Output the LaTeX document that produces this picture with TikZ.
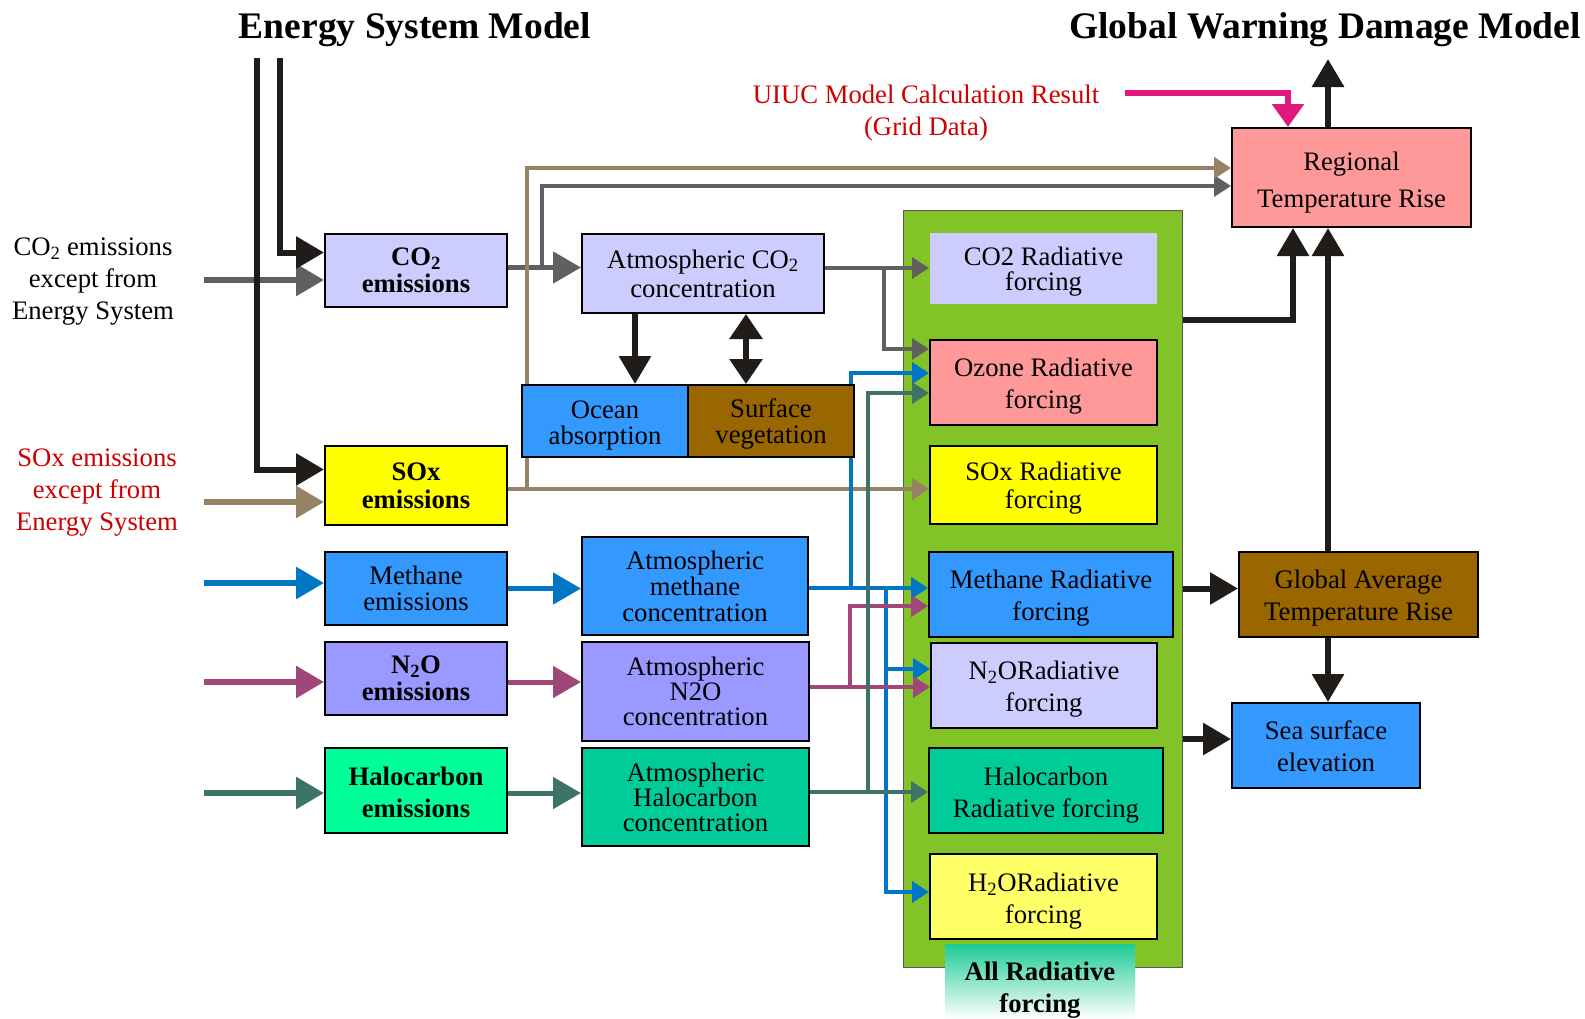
\documentclass[tikz,border=0pt]{standalone}
\usepackage{fontspec}
\setmainfont{Liberation Serif}
\usetikzlibrary{arrows.meta,backgrounds}
\definecolor{lav}{HTML}{CCCCFF}
\definecolor{skyblue}{HTML}{3399FF}
\definecolor{brownish}{HTML}{996600}
\definecolor{soxyel}{HTML}{FFFF00}
\definecolor{paleyel}{HTML}{FFFF66}
\definecolor{rose}{HTML}{FF9999}
\definecolor{n2ofill}{HTML}{9999FF}
\definecolor{halofill}{HTML}{00FF99}
\definecolor{haloatmfill}{HTML}{00CC99}
\definecolor{panelgreen}{HTML}{82C428}
\definecolor{allrftop}{HTML}{1ECC96}
\definecolor{wiregray}{HTML}{606060}
\definecolor{wiretan}{HTML}{968264}
\definecolor{wireblue}{HTML}{0077C4}
\definecolor{wirepurple}{HTML}{9E4778}
\definecolor{wireteal}{HTML}{3E7468}
\definecolor{wireblack}{HTML}{201C1A}
\definecolor{wiremag}{HTML}{E0197D}
\definecolor{labelred}{HTML}{CC0000}
\pgfdeclarelayer{wires}
\pgfsetlayers{background,wires,main}
\newcommand{\dropstrut}[1]{\rule{0pt}{#1}}

\begin{document}
\begin{tikzpicture}[
    x=1pt, y=-1pt,
    box/.style={rectangle, draw=black, line width=2pt, align=center,
                inner sep=0pt, font=\fontsize{26.7}{#1}\selectfont},
    box/.default=32,
    bbox/.style={box, font=\fontsize{26.7}{#1}\selectfont\bfseries},
    bbox/.default=26,
    lbl/.style={align=center, inner sep=0pt, font=\fontsize{26.7}{32}\selectfont},
    title/.style={inner sep=0pt, font=\fontsize{37.5}{40}\selectfont\bfseries},
    feed/.style={line width=6pt, -{Triangle[length=28pt,width=31pt]}},
    wire/.style={line width=4pt, -{Triangle[length=17pt,width=21pt]}}
]
\useasboundingbox (0,0) rectangle (1585,1018);

\node[title] (esm) at (415,30) {Energy System Model};
\node[title] (gwdm) at (1325,30) {Global Warning Damage Model};

\begin{pgfonlayer}{background}
\node[draw=gray!70!black, line width=1pt, fill=panelgreen, inner sep=0pt,
      minimum width=279pt, minimum height=757pt] (panel) at (1042.5,588.5) {};
\end{pgfonlayer}

% sources
\node[lbl] (co2src) at (93,282) {CO\textsubscript{2} emissions\\except from\\Energy System};
\node[lbl, text=labelred] (soxsrc) at (97,493) {SOx emissions\\except from\\Energy System};
\node[lbl, text=labelred] (uiuc) at (926,113) {UIUC Model Calculation Result\\(Grid Data)};

% emissions
\node[bbox=26.5, fill=lav, minimum width=182pt, minimum height=73pt] (co2em) at (416,270.5) {CO\textsubscript{2}\\emissions};
\node[bbox=28, fill=soxyel, minimum width=182pt, minimum height=79pt] (soxem) at (416,485.5) {SOx\\emissions};
\node[box=26, fill=skyblue, minimum width=182pt, minimum height=73pt] (methem) at (416,588.5) {Methane\\emissions};
\node[bbox=26.5, fill=n2ofill, minimum width=182pt, minimum height=73pt] (n2oem) at (416,678.5) {N\textsubscript{2}O\\emissions};
\node[bbox=32, fill=halofill, minimum width=182pt, minimum height=85pt] (haloem) at (416,790.5) {\dropstrut{22pt}Halocarbon\\emissions};

% concentrations
\node[box=29, fill=lav, minimum width=242pt, minimum height=79pt] (atmco2) at (703,273.5) {Atmospheric CO\textsubscript{2}\\concentration};
\node[box=26, fill=skyblue, minimum width=166pt, minimum height=72pt] (ocean) at (605,421) {\dropstrut{26pt}Ocean\\absorption};
\node[box=26, fill=brownish, minimum width=166pt, minimum height=72pt] (veg) at (771,421) {\dropstrut{25pt}Surface\\vegetation};
\node[box=26, fill=skyblue, minimum width=226pt, minimum height=98pt] (methatm) at (695,586) {Atmospheric\\methane\\concentration};
\node[box=25, fill=n2ofill, minimum width=227pt, minimum height=99pt] (n2oatm) at (695.5,691.5) {Atmospheric\\N2O\\concentration};
\node[box=25, fill=haloatmfill, minimum width=227pt, minimum height=98pt] (haloatm) at (695.5,797) {Atmospheric\\Halocarbon\\concentration};

% radiative forcing
\node[box=25, draw=none, fill=lav, minimum width=227pt, minimum height=71pt] (co2rf) at (1043.5,268.5) {\dropstrut{25pt}CO2 Radiative\\forcing};
\node[box, fill=rose, minimum width=227pt, minimum height=85pt] (ozrf) at (1043.5,382.5) {\dropstrut{26pt}Ozone Radiative\\forcing};
\node[box=28, fill=soxyel, minimum width=227pt, minimum height=78pt] (soxrf) at (1043.5,485) {\dropstrut{25pt}SOx Radiative\\forcing};
\node[box, fill=skyblue, minimum width=244pt, minimum height=85pt] (methrf) at (1051,594.5) {\dropstrut{26pt}Methane Radiative\\forcing};
\node[box, fill=lav, minimum width=226pt, minimum height=85pt] (n2orf) at (1044,685.5) {\dropstrut{26pt}N\textsubscript{2}ORadiative\\forcing};
\node[box, fill=haloatmfill, minimum width=234pt, minimum height=85pt] (halorf) at (1046,790.5) {\dropstrut{28pt}Halocarbon\\Radiative forcing};
\node[box, fill=paleyel, minimum width=227pt, minimum height=85pt] (h2orf) at (1043.5,896.5) {\dropstrut{28pt}H\textsubscript{2}ORadiative\\forcing};
\node[bbox=32, draw=none, top color=allrftop, bottom color=white, minimum width=190pt, minimum height=73pt] (allrf) at (1040,981.5) {\dropstrut{36pt}All Radiative\\forcing};

% damage
\node[box=37, fill=rose, minimum width=239pt, minimum height=99pt] (regional) at (1351.5,177.5) {\dropstrut{28pt}Regional\\Temperature Rise};
\node[box, fill=brownish, minimum width=239pt, minimum height=85pt] (gat) at (1358.5,594.5) {\dropstrut{26pt}Global Average\\Temperature Rise};
\node[box, fill=skyblue, minimum width=188pt, minimum height=85pt] (sea) at (1326,745.5) {\dropstrut{20pt}Sea surface\\elevation};

% free ends and branch points
\coordinate (esl) at (257,58);
\coordinate (esr) at (280,58);
\coordinate (co2in) at (204,280);
\coordinate (soxin) at (204,502);
\coordinate (methin) at (204,583);
\coordinate (n2oin) at (204,682);
\coordinate (haloin) at (204,793);
\coordinate (gsplit) at (542,268);
\coordinate (tsplit) at (527,489);
\coordinate (osplit) at (884,268);
\coordinate (bup) at (851,588);
\coordinate (bdown) at (886,588);
\coordinate (pup) at (850,687);
\coordinate (tup) at (868,792);
\coordinate (uiucsrc) at (1125,93);
\coordinate (gwout) at (1328,59);

\begin{pgfonlayer}{wires}
\draw[feed, wiregray] (co2in) -- (co2in -| co2em.west);
\draw[feed, wiretan] (soxin) -- (soxin -| soxem.west);
\draw[feed, wireblue] (methin) -- (methin -| methem.west);
\draw[feed, wirepurple] (n2oin) -- (n2oin -| n2oem.west);
\draw[feed, wireteal] (haloin) -- (haloin -| haloem.west);
\draw[feed, wireblack] (esr) |- ([yshift=18pt]co2em.west);
\draw[feed, wireblack] (esl) |- ([yshift=16pt]soxem.west);

\draw[feed, line width=5pt, wiregray] ([yshift=3pt]co2em.east) -- ([yshift=3pt]co2em.east -| atmco2.west);
\draw[feed, line width=5pt, wireblue] (methem.east) -- (methem.east -| methatm.west);
\draw[feed, line width=5pt, wirepurple] ([yshift=-3.5pt]n2oem.east) -- ([yshift=-3.5pt]n2oem.east -| n2oatm.west);
\draw[feed, line width=5pt, wireteal] ([yshift=-2.5pt]haloem.east) -- ([yshift=-2.5pt]haloem.east -| haloatm.west);

\draw[wire, wiregray, line width=3.5pt] (gsplit) |- ([yshift=-8.5pt]regional.west);
\draw[wire, wiretan] ([yshift=-3.5pt]soxem.east) -- ([yshift=-3.5pt]soxem.east -| soxrf.west);
\draw[wire, wiretan] (tsplit) |- ([yshift=9.5pt]regional.west);

\draw[feed, wireblack] ([xshift=30pt]ocean.north |- atmco2.south) -- ([xshift=30pt]ocean.north);
\draw[{Triangle[length=25pt,width=32pt]}-{Triangle[length=25pt,width=32pt]}, line width=6pt, wireblack]
    ([xshift=-25pt]veg.north |- atmco2.south) -- ([xshift=-25pt]veg.north);

\draw[wire, wiregray, line width=3.5pt] ([yshift=5.5pt]atmco2.east) -- ([yshift=5.5pt]atmco2.east -| co2rf.west);
\draw[wire, wiregray, line width=3.5pt] (osplit) |- ([yshift=33.5pt]ozrf.west);

\draw[wire, wireblue] ([yshift=-2pt]methatm.east) -- ([yshift=-2pt]methatm.east -| methrf.west);
\draw[wire, wireblue] (bup) |- ([yshift=9.5pt]ozrf.west);
\draw[wire, wireblue] (bdown) |- ([yshift=16.5pt]n2orf.west);
\draw[wire, wireblue] (bdown) |- ([yshift=4.5pt]h2orf.west);

\draw[wire, wirepurple] ([yshift=4.5pt]n2oatm.east) -- ([yshift=4.5pt]n2oatm.east -| n2orf.west);
\draw[wire, wirepurple] (pup) |- ([yshift=-11.5pt]methrf.west);

\draw[wire, wireteal] ([yshift=5pt]haloatm.east) -- ([yshift=5pt]haloatm.east -| halorf.west);
\draw[wire, wireteal] (tup) |- ([yshift=-10.5pt]ozrf.west);

\draw[feed, wireblack] ([yshift=268.5pt]panel.east) -| ([xshift=-58.5pt]regional.south);
\draw[feed, wireblack] (panel.east) -- (panel.east -| gat.west);
\draw[feed, wireblack] ([yshift=6.5pt]sea.west -| panel.east) -- ([yshift=6.5pt]sea.west);
\draw[feed, wireblack] ([xshift=-30.5pt]gat.north) -- ([xshift=-30.5pt]gat.north |- regional.south);
\draw[feed, wireblack] ([xshift=-30.5pt]gat.south) -- ([xshift=-30.5pt]gat.south |- sea.north);
\draw[feed, wireblack] ([xshift=-23.5pt]regional.north) -- (gwout);
\draw[line width=6pt, wiremag, -{Triangle[length=23pt,width=31pt]}] (uiucsrc) -| ([xshift=-63.5pt]regional.north);
\end{pgfonlayer}
\end{tikzpicture}
\end{document}
